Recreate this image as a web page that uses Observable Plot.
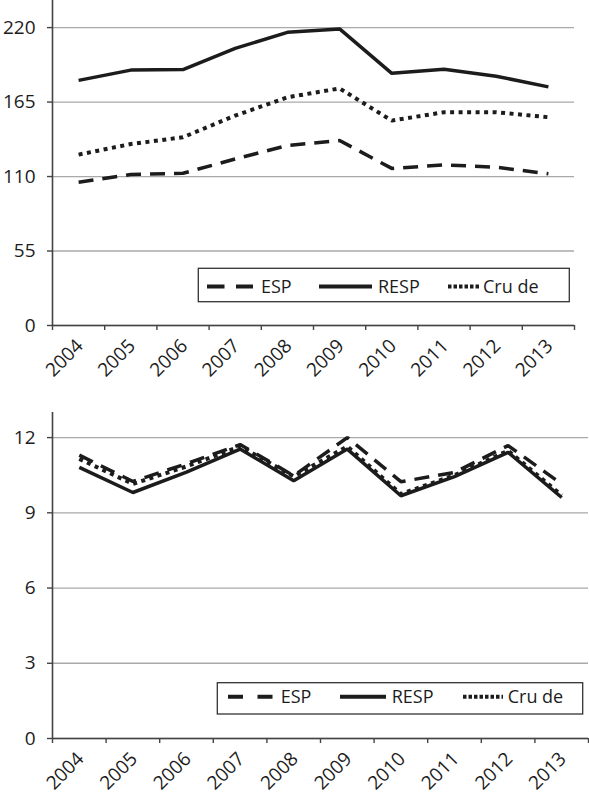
<!DOCTYPE html>
<html><head><meta charset="utf-8">
<script src="https://cdn.jsdelivr.net/npm/d3@7"></script>
<script src="https://cdn.jsdelivr.net/npm/@observablehq/plot@0.6"></script>
<style>
body{margin:0;background:#fff;}
#wrap{width:589px;}
svg{display:block;}
</style></head><body><div id="wrap"></div>
<script>
// ---- data ----
const years = [2004, 2005, 2006, 2007, 2008, 2009, 2010, 2011, 2012, 2013];
const seriesNames = ["ESP", "RESP", "Crude"];
const legendLabels = ["ESP", "RESP", "Cru de"];

// top panel
const topESP   = [105.8, 111.5, 112.4, 123.0, 132.9, 136.6, 116.0, 118.6, 116.9, 112.0];
const topRESP  = [181.0, 188.6, 189.0, 204.6, 216.5, 219.0, 186.2, 189.3, 184.1, 176.2];
const topCrude = [126.2, 134.0, 139.0, 155.0, 168.5, 175.1, 151.3, 157.5, 157.5, 153.8];
const topTicks = [0, 55, 110, 165, 220];

// bottom panel
const botESP   = [11.30, 10.25, 10.96, 11.72, 10.48, 12.00, 10.24, 10.61, 11.68, 10.15];
const botRESP  = [10.81, 9.81, 10.62, 11.54, 10.28, 11.54, 9.68, 10.44, 11.41, 9.61];
const botCrude = [11.15, 10.15, 10.85, 11.65, 10.45, 11.65, 9.75, 10.50, 11.48, 9.70];
const botTicks = [0, 3, 6, 9, 12];

// ---- drawing ----
const INK = "#1c1c1c";
const FONT = "Open Sans";
const lineStyle = {
  ESP:   {strokeDasharray: "15,9", strokeWidth: 3.5},
  RESP:  {strokeDasharray: null, strokeWidth: 3.5},
  Crude: {strokeDasharray: "4,4.5", strokeWidth: 4}
};

function makeChart(cfg) {
  const vals = {ESP: cfg.esp, RESP: cfg.resp, Crude: cfg.crude};
  const boundaries = d3.range(years[0] - 0.5, years[years.length - 1] + 1, 1);
  const lines = seriesNames.map(name => {
    const rows = years.map((y, i) => ({year: y, value: vals[name][i]}));
    const st = lineStyle[name];
    const opts = {x: "year", y: "value", stroke: INK, strokeWidth: st.strokeWidth,
      strokeLinejoin: "miter", strokeLinecap: "butt"};
    if (st.strokeDasharray) opts.strokeDasharray = st.strokeDasharray;
    return Plot.lineY(rows, opts);
  });
  const svg = Plot.plot({
    width: 589, height: 400,
    marginLeft: 52, marginRight: cfg.marginRight,
    marginTop: cfg.marginTop, marginBottom: cfg.marginBottom,
    style: {fontFamily: FONT, fontSize: "19px", color: INK, background: "white", overflow: "visible"},
    x: {type: "linear", domain: [years[0] - 0.5, years[years.length - 1] + 0.5], axis: null, label: null},
    y: {domain: cfg.yDomain, axis: null, label: null},
    marks: [
      Plot.ruleY(cfg.ticks, {stroke: "#a9a9a9", strokeWidth: 1.3}),
      ...lines,
      Plot.ruleX([boundaries[0]], {stroke: "#444", strokeWidth: 1.6}),
      Plot.ruleY([0], {stroke: "#444", strokeWidth: 1.6}),
      Plot.axisX(boundaries, {tickSize: 5, tickFormat: () => "", label: null, stroke: "#444", strokeWidth: 1.4}),
      Plot.axisY(cfg.ticks, {tickSize: 5, tickPadding: 12, label: null, fontSize: 19, stroke: "#444", strokeWidth: 1.4, fill: INK}),
      Plot.text(years, {x: d => d, frameAnchor: "bottom", text: d => String(d), rotate: -45,
        textAnchor: "end", dx: 5.6, dy: 21.6, fontSize: 19, fill: INK})
    ]
  });
  // legend box (inside plot area)
  const L = cfg.legend;
  const g = d3.select(svg).append("g").attr("font-family", FONT).attr("font-size", 18)
    .attr("fill", INK).attr("text-anchor", "start");
  g.append("rect").attr("x", L.x).attr("y", L.y).attr("width", L.w).attr("height", L.h)
    .attr("fill", "white").attr("stroke", "#333").attr("stroke-width", 1.3);
  seriesNames.forEach((name, i) => {
    const it = L.items[i];
    const ln = g.append("line").attr("x1", it.x1).attr("x2", it.x2).attr("y1", L.cy).attr("y2", L.cy)
      .attr("stroke", INK).attr("stroke-width", 4);
    if (it.dash) ln.attr("stroke-dasharray", it.dash);
    g.append("text").attr("x", it.tx).attr("y", L.cy).attr("dy", "0.36em")
      .attr("text-anchor", "start").text(legendLabels[i]);
  });
  return svg;
}

const wrap = document.getElementById("wrap");
wrap.appendChild(makeChart({
  esp: topESP, resp: topRESP, crude: topCrude,
  yDomain: [0, 240], ticks: topTicks,
  marginTop: 0, marginBottom: 75, marginRight: 15,
  legend: {x: 198.3, y: 268.3, w: 371, h: 33.4, cy: 286.5,
    items: [{x1: 207, x2: 253, dash: "17.5,11.5", tx: 261},
            {x1: 319, x2: 372, dash: null, tx: 378},
            {x1: 448, x2: 480, dash: "3.5,2", tx: 483}]}
}));
wrap.appendChild(makeChart({
  esp: botESP, resp: botRESP, crude: botCrude,
  yDomain: [0, 13], ticks: botTicks,
  marginTop: 12, marginBottom: 62, marginRight: 1,
  legend: {x: 217.3, y: 282.7, w: 365.4, h: 31.3, cy: 296.7,
    items: [{x1: 228, x2: 273, dash: "15,14.5", tx: 280.7},
            {x1: 340, x2: 386, dash: null, tx: 391.7},
            {x1: 463, x2: 503, dash: "3.5,2", tx: 507.7}]}
}));
</script></body></html>
